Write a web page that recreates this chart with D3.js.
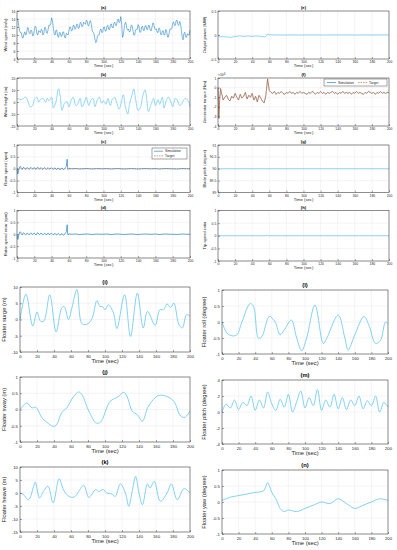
<!DOCTYPE html>
<html><head><meta charset="utf-8">
<script src="https://cdn.jsdelivr.net/npm/d3@7/dist/d3.min.js"></script>
<style>body{margin:0;background:#fff}svg{display:block}text{font-family:"Liberation Sans",Arial,sans-serif}</style>
</head><body><svg id="c" width="397" height="550"></svg>
<script>
const timeTicks=[0,20,40,60,80,100,120,140,160,180,200];
// (a) wind speed, 1 s samples
const windT=d3.range(0,201,1);
const windV=[14.2,13.8,12.4,11.0,10.6,10.6,9.4,9.2,10.2,10.8,10.0,10.2,11.8,11.8,10.6,10.3,11.2,11.1,9.8,9.9,11.2,12.2,11.9,10.3,10.0,11.1,11.0,10.6,11.4,11.3,10.0,10.4,11.9,11.8,10.6,10.4,11.4,12.5,12.4,12.8,14.3,13.6,11.8,10.3,10.0,11.2,11.2,9.7,9.4,10.6,10.6,9.6,9.8,10.8,10.7,9.4,9.3,10.4,10.2,10.0,11.0,12.0,11.9,11.0,11.2,12.4,12.4,11.4,11.7,12.7,12.6,11.6,11.9,13.1,13.1,12.1,12.2,13.2,12.9,12.7,13.6,13.6,12.4,12.3,13.4,13.6,12.6,11.0,10.6,10.4,9.0,8.1,8.3,9.8,10.0,10.0,11.2,11.5,10.6,10.7,11.9,12.0,11.0,11.0,12.2,12.4,11.4,11.3,12.4,12.8,11.9,11.8,12.9,13.2,12.4,12.4,13.6,14.0,13.1,13.3,14.6,12.6,9.4,10.1,11.9,13.1,13.1,11.6,11.2,11.5,10.7,11.0,12.4,12.4,11.2,10.0,10.0,11.3,11.4,11.4,12.6,12.2,10.7,10.7,11.9,12.2,11.2,11.1,12.2,12.4,11.4,11.3,12.4,12.4,11.2,11.0,11.9,13.0,12.9,11.6,11.4,11.6,10.7,10.6,11.7,11.6,10.2,10.0,11.0,11.1,10.0,10.1,11.4,11.0,9.5,9.5,10.6,11.6,11.4,11.6,12.9,13.3,12.4,12.4,13.6,13.7,12.6,12.4,13.4,12.9,11.2,9.4,8.8,10.4,10.7,9.5,9.4,10.3,10.0,10.0,11.2];
const windTicks=[4,6,8,10,12,14,16];
// (b) wave height
const waveT=[0,5,10,13,15,18,20,23,25,27,30,33,35,37,40,42,45,48,50,52,55,58,60,63,65,68,70,73,75,78,80,83,85,88,90,93,95,98,100,103,105,108,110,113,115,118,120,123,125,128,130,133,135,137,140,143,145,148,150,152,155,158,160,163,165,168,170,173,175,178,180,183,185,188,190,193,195,198,200];
const waveV=[3,2,4,0,-4,-3,2,4,0,2,3,0,3,1,4,-5,0,11,5,-7,-1,0,-4,2,4,-3,-2,3,-4,0,4,-3,1,3,-4,2,4,-1,1,-2,3,-3,2,4,0,-6,-2,6,-3,-10,-2,6,11,3,-7,-4,4,10,2,-8,-2,3,-3,2,-2,4,-5,2,4,0,-4,3,2,-3,-2,2,3,1,-4];
const waveTicks=[-20,-10,0,10,20];
// (c)/(d) rotor speed
const rotorT=[0,1,2,3,4,5,6,7,8,9,10,11,12,13,14,15,16,17,18,19,20,21,22,23,24,25,26,27,28,29,30,31,32,33,34,35,36,37,38,39,40,41,42,43,44,45,46,47,48,49,50,51,52,53,54,55,56,57,58,58.5,59,60,64,68,72,76,80,84,88,92,96,100,104,108,112,116,120,124,128,132,136,140,144,148,152,156,160,164,168,172,176,180,184,188,192,196,200];
const rotorV=[0,-0.22,-0.05,0.08,0.1,0.02,-0.03,0.04,0.06,0,-0.03,0.03,0.05,0.01,-0.03,0.02,0.06,0.02,-0.02,0.03,0.05,0,-0.03,0.04,0.06,0.01,-0.02,0.03,0.05,0,-0.03,0.02,0.05,0.01,-0.03,0.02,0.05,0,-0.02,0.03,0.04,0,-0.03,0.02,0.04,-0.01,-0.03,0.02,0.03,-0.02,-0.04,0.01,0.03,-0.02,-0.04,0,0.05,0.1,0.4,0.05,-0.03,0.01,0,0.01,-0.01,0,0.01,0,-0.01,0.01,0,0,0.01,-0.01,0,0.01,0,-0.01,0,0.01,0,-0.01,0,0.01,0,0,0.01,-0.01,0,0.01,0,0,-0.01,0,0.01,0,0];
const unitTicks=[-1,-0.5,0,0.5,1];
// (e) output power
const powerT=[0,2,5,10,15,20,25,30,35,40,45,50,55,57,58,60,70,80,100,120,140,160,180,200];
const powerV=[0,-0.04,-0.03,-0.04,-0.05,-0.03,-0.02,-0.03,-0.02,-0.03,-0.02,-0.03,-0.04,-0.01,0.02,0.005,0,0,0,0,0,0,0,0];
const powerTicks=[-0.5,0,0.5];
// (f) generator torque (x10^4)
const torqueT=[0,1,2,3].concat(d3.range(4,201,2));
const torqueV=[0,-3.2,-1.2,-0.1,-0.5,-1.3,-1.0,-0.8,-1.2,-1.4,-0.9,-1.1,-0.6,-1.0,-1.3,-0.7,-1.1,-0.9,-0.5,-1.2,-0.8,-1.0,-0.6,-1.3,-0.9,-1.5,-0.8,-1.1,-1.4,-1.6,-0.8,0.9,-0.3,-0.5,-0.6,-0.4,-0.7,-0.5,-0.6,-0.4,-0.6,-0.7,-0.5,-0.6,-0.4,-0.6,-0.5,-0.7,-0.5,-0.6,-0.4,-0.6,-0.5,-0.6,-0.7,-0.5,-0.6,-0.4,-0.5,-0.7,-0.5,-0.6,-0.4,-0.6,-0.5,-0.7,-0.5,-0.6,-0.5,-0.4,-0.6,-0.5,-0.7,-0.5,-0.6,-0.4,-0.6,-0.5,-0.6,-0.5,-0.7,-0.5,-0.6,-0.4,-0.6,-0.5,-0.6,-0.7,-0.5,-0.6,-0.4,-0.5,-0.6,-0.5,-0.7,-0.5,-0.6,-0.4,-0.6,-0.5,-0.6,-0.5,-0.5];
const torqueTicks=[-4,-3,-2,-1,0,1];
// (g) blade pitch
const pitchT=[0,200]; const pitchV=[90,90];
const pitchTicks=[89,89.5,90,90.5,91];
// (h) tip speed ratio
const tsrT=[0,56,58,60,200]; const tsrV=[0,0,0.02,0,0];
// (i) surge
const surgeT=[0,7,15,20,24,28,35,42.5,49,52,57,61,67,73,80,85,90.5,94,97,100,104,110,114,123,130,138,145,150,159,164.5,169,173,177,181,187,191,196,200];
const surgeV=[0,7.8,-2,2.3,-0.5,-0.5,7.6,-3.8,3.5,4,0,3.5,9.2,-1.3,-1.3,0.5,5.8,4,4,3,4.5,2,-2.8,7.6,-5.2,8.1,-2.6,2.5,-1.8,3,3,4.8,3.7,5,-1.6,-2.6,1.5,1];
const surgeTicks=[-10,-5,0,5,10];
// (j) sway
const swayT=[0,8,14,18,20,26,31,39,43,49,55,63,69,73,81,90,95,106,116,122,126,132,138,144,150,155,163,173,181,189,194,200];
const swayV=[0,0.2,0.05,0.07,0.03,-0.26,-0.38,-0.52,-0.47,-0.1,0.05,0.4,0.54,0.45,-0.05,-0.42,-0.38,0.25,0.4,0.53,0.4,-0.05,-0.16,-0.36,0.05,0.25,0.43,0.4,0.25,-0.2,-0.24,-0.05];
// (k) heave
const heaveT=[0,4,10,16,18,23,27.5,33,39,46,51,55,61,65,69,75,81,89,92.5,98,102,108,112,118,124,128,132,136,140,144,150,153,158,165,173,178,185,193,200];
const heaveV=[0,-0.6,-2.6,2.5,4.2,-1.9,0.6,2.6,-3.8,5.5,1.3,-0.6,-1.7,-1.3,0.6,3,-1.7,1.3,0.6,1.3,0,-0.4,-1.3,3.5,0,-5.1,0.6,6.4,0,-4.5,3.5,1.9,4.5,-3.2,0,3.5,-2.6,1.7,0];
const heaveTicks=[-15,-10,-5,0,5,10];
// (l) roll
const rollT=[0,6,12,18,24,34,38,44,48,57,64,70,75,83.5,90,96,102,112,122,126,140,148,152,160,171,177,185,191,197,200];
const rollV=[0,-0.35,-0.43,-0.4,0,0.58,0.48,-0.51,-0.46,0.17,0,-0.4,-0.25,0.06,-0.5,-0.9,-0.5,0.53,-0.67,-0.52,0.22,-0.5,-0.87,-0.4,0.17,-0.1,-0.67,-0.57,0,-0.05];
// (m) pitch
const fpitchT=[0,5,10,15,20,25,30,35,40,45,50,55,60,65,70,75,80,85,90,95,100,105,110,115,120,125,130,135,140,145,150,155,160,165,170,175,180,185,190,195,200];
const fpitchV=[0,1,0.5,1.5,0.3,1.2,0.8,2,0.2,1.5,0.5,2.5,1,0.2,1.6,0.6,2.2,0,1.3,2.6,0.5,1.8,0.8,2.8,0.2,1.5,0.6,2.2,0.4,1.8,0.3,1.5,0.8,2,0.4,1.4,0.8,2,0,1.2,0.6];
const fpitchTicks=[-4,-2,0,2,4];
// (n) yaw
const yawT=[0,10,20,30,40,50,55,60,65,70,75,80,90,100,110,120,130,140,150,160,170,180,190,200];
const yawV=[0.05,0.15,0.2,0.25,0.3,0.35,0.6,0.3,0.1,-0.2,-0.3,-0.25,-0.3,-0.2,-0.1,0,-0.05,0.1,-0.05,-0.2,-0.1,0,0.1,0.05];

const svg=d3.select('#c');
const BLUE='#0072BD', LBLUE='#4DBEEE', RED='#D95319';

function panel(o){
  const x=d3.scaleLinear().domain([0,200]).range([o.x0,o.x1]);
  const y=d3.scaleLinear().domain(o.dom).range([o.y1,o.y0]);
  const g=svg.append('g');
  g.selectAll(null).data(timeTicks).join('line').attr('x1',d=>x(d)).attr('x2',d=>x(d)).attr('y1',o.y0).attr('y2',o.y1).attr('stroke','#e3e3e3').attr('stroke-width',0.4);
  g.selectAll(null).data(o.ticks).join('line').attr('x1',o.x0).attr('x2',o.x1).attr('y1',d=>y(d)).attr('y2',d=>y(d)).attr('stroke','#e3e3e3').attr('stroke-width',0.4);
  o.series.forEach(s=>{
    const line=d3.line().x(d=>x(d[0])).y(d=>y(d[1])).curve(s.smooth?d3.curveCatmullRom.alpha(0.5):d3.curveLinear);
    g.append('path').datum(d3.zip(s.t,s.v)).attr('d',line).attr('fill','none').attr('stroke',s.color).attr('stroke-width',s.w||0.6).attr('stroke-dasharray',s.dash||null);
  });
  const ax=g.append('g').attr('transform',`translate(0,${o.y1})`).call(d3.axisBottom(x).tickValues(timeTicks).tickSize(-2).tickPadding(o.fs*0.6).tickSizeOuter(0));
  const ay=g.append('g').attr('transform',`translate(${o.x0},0)`).call(d3.axisLeft(y).tickValues(o.ticks).tickSize(-2).tickPadding(o.fs*0.5).tickSizeOuter(0).tickFormat(o.fmt||(d=>d)));
  [ax,ay].forEach(a=>{a.select('.domain').remove();a.selectAll('line').attr('stroke','#262626').attr('stroke-width',0.4);a.selectAll('text').attr('font-size',o.fs).attr('fill','#262626').attr('font-family','"Liberation Sans",Arial,sans-serif');});
  g.append('rect').attr('x',o.x0).attr('y',o.y0).attr('width',o.x1-o.x0).attr('height',o.y1-o.y0).attr('fill','none').attr('stroke','#262626').attr('stroke-width',0.5);
  g.append('text').attr('x',(o.x0+o.x1)/2).attr('y',o.y0-o.tfs*0.45).attr('text-anchor','middle').attr('font-size',o.tfs).attr('font-weight','bold').attr('fill','#000').text(o.title);
  g.append('text').attr('x',(o.x0+o.x1)/2).attr('y',o.y1+o.fs*1.2+o.lfs*1.05).attr('text-anchor','middle').attr('font-size',o.lfs).attr('fill','#262626').text('Time (sec)');
  g.append('text').attr('transform',`translate(${o.ylx},${(o.y0+o.y1)/2}) rotate(-90)`).attr('text-anchor','middle').attr('font-size',o.lfs).attr('fill','#262626').text(o.ylabel);
  const items=[['Simulation',BLUE,null],['Target',RED,'1.5,1']];
  if(o.legend==='v'){
    const lw=35,lh=11,lx=o.x1-lw-3,ly=o.y0+3;
    g.append('rect').attr('x',lx).attr('y',ly).attr('width',lw).attr('height',lh).attr('fill','#fff').attr('stroke','#262626').attr('stroke-width',0.4);
    items.forEach((e,i)=>{
      const yy=ly+3.2+i*4.6;
      g.append('line').attr('x1',lx+2).attr('x2',lx+11).attr('y1',yy).attr('y2',yy).attr('stroke',e[1]).attr('stroke-width',0.6).attr('stroke-dasharray',e[2]);
      g.append('text').attr('x',lx+13).attr('y',yy+1.2).attr('font-size',3.4).attr('fill','#262626').text(e[0]);
    });
  }
  if(o.legend==='h'){
    const lw=63,lh=7,lx=o.x1-lw-2,ly=o.y0+1;
    g.append('rect').attr('x',lx).attr('y',ly).attr('width',lw).attr('height',lh).attr('fill','#fff').attr('stroke','#262626').attr('stroke-width',0.4);
    items.forEach((e,i)=>{
      const xx=lx+3+i*31, yy=ly+lh/2;
      g.append('line').attr('x1',xx).attr('x2',xx+9).attr('y1',yy).attr('y2',yy).attr('stroke',e[1]).attr('stroke-width',0.6).attr('stroke-dasharray',e[2]);
      g.append('text').attr('x',xx+11).attr('y',yy+1.2).attr('font-size',3.4).attr('fill','#262626').text(e[0]);
    });
  }
  if(o.expo){
    g.append('text').attr('x',o.x0).attr('y',o.y0-2).attr('font-size',o.fs).attr('fill','#262626').html('\u00d710<tspan dy="-1.5" font-size="'+(o.fs*0.8)+'">4</tspan>');
  }
}
const S={fs:3.4,lfs:4.2,tfs:4.2};
const L={x0:17,x1:190,ylx:7}, R={x0:218,x1:389,ylx:206};
const rows=[[11,59],[78,126],[145,192.5],[210.5,258]];
panel({...S,...L,y0:rows[0][0],y1:rows[0][1],dom:[4,16],ticks:windTicks,title:'(a)',ylabel:'Wind speed (m/s)',series:[{t:windT,v:windV,color:BLUE,w:0.5}]});
panel({...S,...L,y0:rows[1][0],y1:rows[1][1],dom:[-20,20],ticks:waveTicks,title:'(b)',ylabel:'Wave height (m)',series:[{t:waveT,v:waveV,color:LBLUE,smooth:true}]});
panel({...S,...L,y0:rows[2][0],y1:rows[2][1],dom:[-1,1],ticks:unitTicks,title:'(c)',ylabel:'Rotor speed (rpm)',legend:'v',series:[{t:rotorT,v:rotorV,color:BLUE},{t:[0,200],v:[0,0],color:RED,dash:'1.5,1',w:0.4}]});
panel({...S,...L,y0:rows[3][0],y1:rows[3][1],dom:[-1,1],ticks:unitTicks,title:'(d)',ylabel:'Rotor speed error (rpm)',series:[{t:rotorT,v:rotorV,color:BLUE}]});
panel({...S,...R,y0:rows[0][0],y1:rows[0][1],dom:[-0.5,0.5],ticks:powerTicks,title:'(e)',ylabel:'Output power (MW)',series:[{t:powerT,v:powerV,color:LBLUE}]});
panel({...S,...R,y0:rows[1][0],y1:rows[1][1],dom:[-4,1],ticks:torqueTicks,title:'(f)',ylabel:'Generator torque (Nm)',legend:'h',expo:true,series:[{t:torqueT,v:torqueV,color:LBLUE},{t:torqueT,v:torqueV,color:RED,w:0.6}]});
panel({...S,...R,y0:rows[2][0],y1:rows[2][1],dom:[89,91],ticks:pitchTicks,title:'(g)',ylabel:'Blade pitch (degree)',series:[{t:pitchT,v:pitchV,color:LBLUE}]});
panel({...S,...R,y0:rows[3][0],y1:rows[3][1]+3,dom:[-1,1],ticks:unitTicks,title:'(h)',ylabel:'Tip-speed ratio',series:[{t:tsrT,v:tsrV,color:LBLUE}]});
const B={fs:4.2,lfs:5.8,tfs:5.8};
const BL={x0:20,x1:190,ylx:6}, BR={x0:222,x1:388,ylx:206};
panel({...B,...BL,y0:287,y1:352,dom:[-10,10],ticks:surgeTicks,title:'(i)',ylabel:'Floater surge (m)',series:[{t:surgeT,v:surgeV,color:LBLUE,w:0.7,smooth:true}]});
panel({...B,...BL,y0:377,y1:442,dom:[-1,1],ticks:unitTicks,title:'(j)',ylabel:'Floater sway (m)',series:[{t:swayT,v:swayV,color:LBLUE,w:0.7,smooth:true}]});
panel({...B,...BL,y0:467,y1:532,dom:[-15,10],ticks:heaveTicks,title:'(k)',ylabel:'Floater heave (m)',series:[{t:heaveT,v:heaveV,color:LBLUE,w:0.7,smooth:true}]});
panel({...B,...BR,y0:290,y1:354,dom:[-1,1],ticks:unitTicks,title:'(l)',ylabel:'Floater roll (degree)',series:[{t:rollT,v:rollV,color:LBLUE,w:0.7,smooth:true}]});
panel({...B,...BR,y0:380,y1:444,dom:[-4,4],ticks:fpitchTicks,title:'(m)',ylabel:'Floater pitch (degree)',series:[{t:fpitchT,v:fpitchV,color:LBLUE,w:0.7,smooth:true}]});
panel({...B,...BR,y0:470,y1:534,dom:[-1,1],ticks:unitTicks,title:'(n)',ylabel:'Floater yaw (degree)',series:[{t:yawT,v:yawV,color:LBLUE,w:0.7,smooth:true}]});
</script></body></html>
